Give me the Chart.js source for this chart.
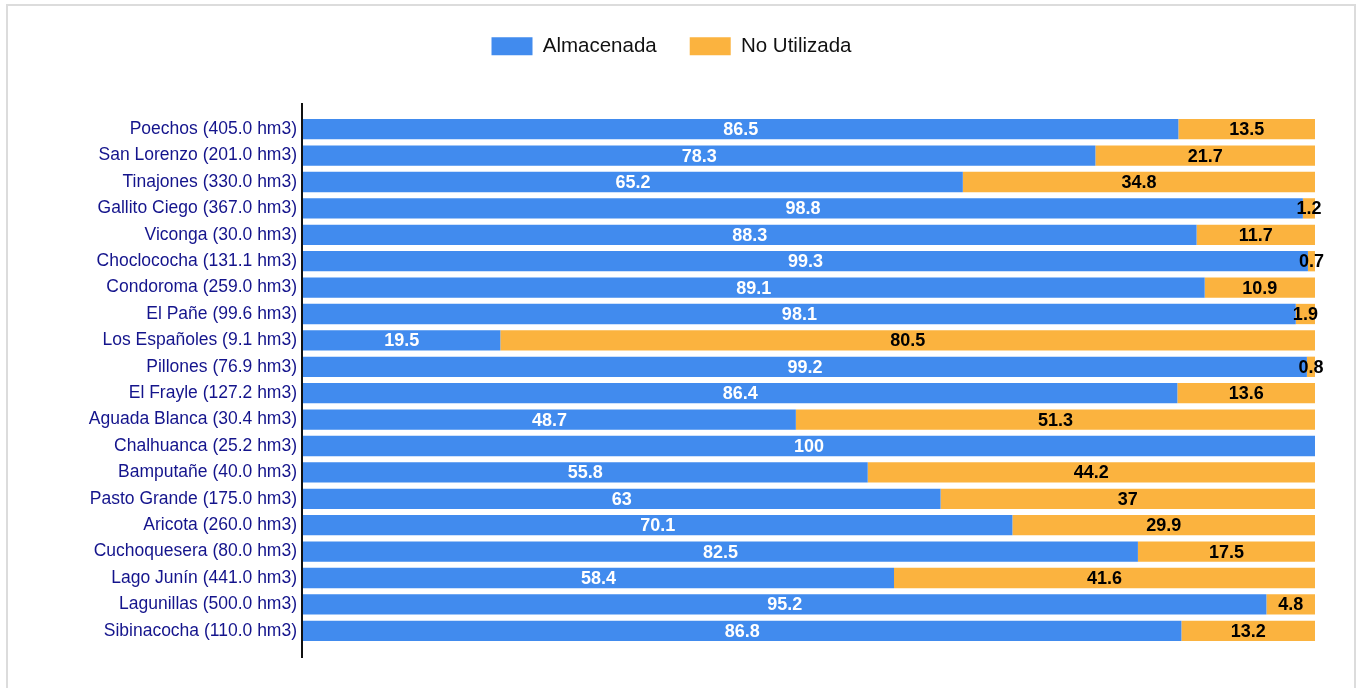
<!DOCTYPE html>
<html>
<head>
<meta charset="utf-8">
<script src="https://cdn.jsdelivr.net/npm/chart.js@4"></script>
<style>
  body { margin: 0; background: #fff; }
  .frame { position: absolute; left: 6px; top: 4px; width: 1346px; height: 700px; border: 2px solid #dcdcdc; }
  #chart { position: absolute; left: 0; top: 0; }
</style>
</head>
<body>
<div class="frame"></div>
<canvas id="chart" width="1359" height="688"></canvas>
<script>
const reservoirs = [
  'Poechos (405.0 hm3)', 'San Lorenzo (201.0 hm3)', 'Tinajones (330.0 hm3)', 'Gallito Ciego (367.0 hm3)',
  'Viconga (30.0 hm3)', 'Choclococha (131.1 hm3)', 'Condoroma (259.0 hm3)', 'El Pañe (99.6 hm3)',
  'Los Españoles (9.1 hm3)', 'Pillones (76.9 hm3)', 'El Frayle (127.2 hm3)', 'Aguada Blanca (30.4 hm3)',
  'Chalhuanca (25.2 hm3)', 'Bamputañe (40.0 hm3)', 'Pasto Grande (175.0 hm3)', 'Aricota (260.0 hm3)',
  'Cuchoquesera (80.0 hm3)', 'Lago Junín (441.0 hm3)', 'Lagunillas (500.0 hm3)', 'Sibinacocha (110.0 hm3)'
];
const almacenada = [86.5, 78.3, 65.2, 98.8, 88.3, 99.3, 89.1, 98.1, 19.5, 99.2, 86.4, 48.7, 100, 55.8, 63, 70.1, 82.5, 58.4, 95.2, 86.8];
const noUtilizada = [13.5, 21.7, 34.8, 1.2, 11.7, 0.7, 10.9, 1.9, 80.5, 0.8, 13.6, 51.3, 0, 44.2, 37, 29.9, 17.5, 41.6, 4.8, 13.2];

// fixed legend height so the bars start where the original does,
// and the legend centred on the whole frame rather than the padded box
const legendBox = {
  id: 'legendBox',
  beforeInit(chart) {
    const fit = chart.legend.fit;
    chart.legend.fit = function () {
      fit.call(this);
      this.height = 113;
    };
  },
  afterLayout(chart) {
    chart.legend.left += 14;
    chart.legend.right += 14;
  }
};

// value labels centred in each segment
const segmentLabels = {
  id: 'segmentLabels',
  afterDatasetsDraw(chart) {
    const ctx = chart.ctx;
    ctx.save();
    ctx.font = 'bold 18px "Liberation Sans", Arial, sans-serif';
    ctx.textAlign = 'center';
    ctx.textBaseline = 'middle';
    chart.data.datasets.forEach((ds, i) => {
      chart.getDatasetMeta(i).data.forEach((bar, j) => {
        const v = ds.data[j];
        if (!v) return;
        ctx.fillStyle = i === 0 ? '#ffffff' : '#000000';
        ctx.fillText(String(v), (bar.x + bar.base) / 2, bar.y + 1);
      });
    });
    ctx.restore();
  }
};

// the dark axis line runs a little past the bars
const axisLine = {
  id: 'axisLine',
  afterDraw(chart) {
    const { ctx, chartArea } = chart;
    ctx.save();
    ctx.strokeStyle = '#111';
    ctx.lineWidth = 2;
    ctx.beginPath();
    ctx.moveTo(chartArea.left - 1, chartArea.top - 13);
    ctx.lineTo(chartArea.left - 1, chartArea.bottom + 14);
    ctx.stroke();
    ctx.restore();
  }
};

new Chart(document.getElementById('chart'), {
  type: 'bar',
  data: {
    labels: reservoirs,
    datasets: [
      { label: 'Almacenada', data: almacenada, backgroundColor: '#418bee', borderWidth: 0 },
      { label: 'No Utilizada', data: noUtilizada, backgroundColor: '#fbb33f', borderWidth: 0 }
    ]
  },
  options: {
    indexAxis: 'y',
    responsive: false,
    animation: false,
    layout: { padding: { left: 0, right: 44, top: 3, bottom: 44 } },
    datasets: { bar: { categoryPercentage: 1, barPercentage: 0.77 } },
    scales: {
      x: { stacked: true, min: 0, max: 100, display: false },
      y: {
        stacked: true,
        grid: { display: false, drawTicks: false },
        border: { display: false },
        afterFit(scale) { scale.width = 303; },
        ticks: {
          padding: 6,
          color: '#14148c',
          font: { family: '"Liberation Sans", Arial, sans-serif', size: 17.5 }
        }
      }
    },
    plugins: {
      tooltip: { enabled: false },
      legend: {
        position: 'top',
        labels: {
          boxWidth: 41,
          boxHeight: 18,
          padding: 33,
          color: '#111',
          font: { family: '"Liberation Sans", Arial, sans-serif', size: 20.5 }
        }
      }
    }
  },
  plugins: [legendBox, segmentLabels, axisLine]
});
</script>
</body>
</html>
